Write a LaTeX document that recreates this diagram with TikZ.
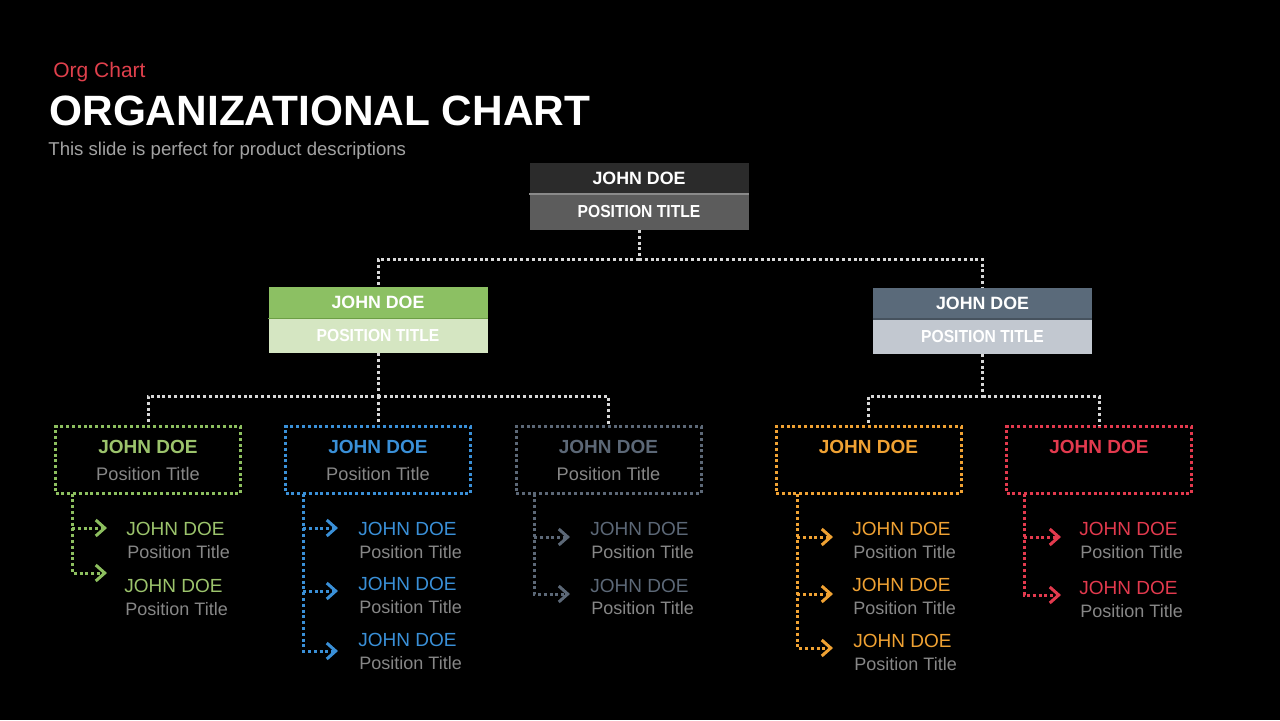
\documentclass[tikz,border=0pt]{standalone}
\usepackage{fontspec}
\setmainfont{Liberation Sans}
\newfontfamily\narrowfont[FakeStretch=0.9]{Liberation Sans}
\usetikzlibrary{arrows.meta}
\definecolor{cgreen}{HTML}{8DBF5F}
\definecolor{cgreentx}{HTML}{9CC46C}
\definecolor{cblue}{HTML}{3A90D8}
\definecolor{cgray}{HTML}{5C6877}
\definecolor{corange}{HTML}{F0A233}
\definecolor{cred}{HTML}{E33A4E}
\definecolor{ctitle}{HTML}{878787}
\definecolor{csub}{HTML}{A3A3A3}
\definecolor{corg}{HTML}{E0404C}
\definecolor{conn}{HTML}{D8D8D8}
\definecolor{topdark}{HTML}{2B2B2B}
\definecolor{topmid}{HTML}{5C5C5C}
\definecolor{topsep}{HTML}{8A8A8A}
\definecolor{lgdark}{HTML}{8CC063}
\definecolor{lglight}{HTML}{D5E6C2}
\definecolor{lgsep}{HTML}{6C9E45}
\definecolor{rsdark}{HTML}{5A6A7A}
\definecolor{rslight}{HTML}{C2C8D0}
\definecolor{rssep}{HTML}{46525E}
\begin{document}
\begin{tikzpicture}[x=0.5pt,y=-0.5pt,
  hdrname/.style={fill=#1, text=white, inner sep=0pt, minimum width=109.5pt, minimum height=15.5pt, font=\fontsize{8.9}{10}\selectfont\bfseries},
  hdrtitle/.style={fill=#1, text=white, inner sep=0pt, minimum width=109.5pt, minimum height=17.5pt, font=\narrowfont\fontsize{8.7}{10}\selectfont\bfseries},
  sepline/.style={draw=#1, line width=0.8pt},
  dots/.style={line width=1.5pt, dash pattern=on 1.5pt off 1.4pt},
  mainconn/.style={draw=conn, dots},
  cbox/.style={draw=#1, dots, minimum width=92.5pt, minimum height=33.5pt, inner sep=0pt},
  bname/.style={text=#1, inner sep=0pt, font=\fontsize{9.5}{11}\selectfont\bfseries},
  btitle/.style={text=ctitle, inner sep=0pt, font=\fontsize{9.1}{11}\selectfont},
  subarrow/.style={draw=#1, dots, -{Straight Barb[length=4.5pt,width=8pt,line width=1.5pt]}},
  sname/.style={text=#1, anchor=west, inner sep=0pt, font=\fontsize{9.5}{11}\selectfont},
  stitle/.style={text=ctitle, anchor=west, inner sep=0pt, font=\fontsize{9.0}{11}\selectfont}]
\useasboundingbox[fill=black] (0,0) rectangle (1280,720);

% heading
\node[anchor=west, inner sep=0pt, text=corg, font=\fontsize{10.5}{12}\selectfont] (org) at (53,72) {Org Chart};
\node[anchor=west, inner sep=0pt, text=white, font=\fontsize{21.2}{24}\selectfont\bfseries] (title) at (49,111) {ORGANIZATIONAL CHART};
\node[anchor=west, inner sep=0pt, text=csub, font=\fontsize{9.3}{11}\selectfont] (subtitle) at (48,151) {This slide is perfect for product descriptions};

% top box
\node[hdrname=topdark] (topn) at (639,178) {JOHN DOE};
\node[hdrtitle=topmid, minimum height=18pt] (topt) at (639,211.5) {POSITION TITLE};
\draw[sepline=topsep] (topn.south west) -- (topn.south east);

% left middle box
\node[hdrname=lgdark] (lmn) at (378,302.5) {JOHN DOE};
\node[hdrtitle=lglight] (lmt) at (378,335.5) {POSITION TITLE};
\draw[sepline=lgsep] (lmn.south west) -- (lmn.south east);

% right middle box
\node[hdrname=rsdark] (rmn) at (982.5,303) {JOHN DOE};
\node[hdrtitle=rslight] (rmt) at (982.5,336) {POSITION TITLE};
\draw[sepline=rssep] (rmn.south west) -- (rmn.south east);

% bottom boxes
\node[cbox=cgreen] (gbox) at (148,460) {};
\node[cbox=cblue] (bbox) at (378,460) {};
\node[cbox=cgray] (ybox) at (608.5,460) {};
\node[cbox=corange] (obox) at (868.5,460) {};
\node[cbox=cred] (rbox) at (1099,460) {};

\node[bname=cgreentx] (gboxn) at (148,447) {JOHN DOE};
\node[btitle] (gboxt) at (148,474) {Position Title};
\node[bname=cblue] (bboxn) at (378,447) {JOHN DOE};
\node[btitle] (bboxt) at (378,474) {Position Title};
\node[bname=cgray] (yboxn) at (608.5,447) {JOHN DOE};
\node[btitle] (yboxt) at (608.5,474) {Position Title};
\node[bname=corange] (oboxn) at (868.5,447) {JOHN DOE};
\node[bname=cred] (rboxn) at (1099,447) {JOHN DOE};

% main connectors
\coordinate (bar1) at (639,259);
\coordinate (bar2) at (378,396);
\coordinate (bar3) at (982.5,396);
\draw[mainconn] (topt.south) -- (bar1) -| (lmn.north);
\draw[mainconn] (bar1) -| (rmn.north);
\draw[mainconn] (lmt.south) -- (bar2) -| (gbox.north);
\draw[mainconn] (bar2) -| (ybox.north);
\draw[mainconn] (bar2) -- (bbox.north);
\draw[mainconn] (rmt.south) -- (bar3) -| (obox.north);
\draw[mainconn] (bar3) -| (rbox.north);

% green subs
\coordinate (g0) at (72,493.5);
\coordinate (ga1) at (107,528);
\coordinate (ga2) at (107,573);
\draw[subarrow=cgreen] (g0) |- (ga2);
\draw[subarrow=cgreen] (g0 |- ga1) -- (ga1);
\node[sname=cgreentx] (gs1n) at (126,529) {JOHN DOE};
\node[stitle] (gs1t) at (127,552) {Position Title};
\node[sname=cgreentx] (gs2n) at (124,586) {JOHN DOE};
\node[stitle] (gs2t) at (125,609) {Position Title};

% blue subs
\coordinate (b0) at (303,493.5);
\coordinate (ba1) at (338,528);
\coordinate (ba2) at (338,591);
\coordinate (ba3) at (338,651);
\draw[subarrow=cblue] (b0) |- (ba3);
\draw[subarrow=cblue] (b0 |- ba1) -- (ba1);
\draw[subarrow=cblue] (b0 |- ba2) -- (ba2);
\node[sname=cblue] (bs1n) at (358,529) {JOHN DOE};
\node[stitle] (bs1t) at (359,552) {Position Title};
\node[sname=cblue] (bs2n) at (358,584) {JOHN DOE};
\node[stitle] (bs2t) at (359,607) {Position Title};
\node[sname=cblue] (bs3n) at (358,640) {JOHN DOE};
\node[stitle] (bs3t) at (359,663) {Position Title};

% gray subs
\coordinate (y0) at (534,493.5);
\coordinate (ya1) at (570,537);
\coordinate (ya2) at (570,594);
\draw[subarrow=cgray] (y0) |- (ya2);
\draw[subarrow=cgray] (y0 |- ya1) -- (ya1);
\node[sname=cgray] (ys1n) at (590,529) {JOHN DOE};
\node[stitle] (ys1t) at (591,552) {Position Title};
\node[sname=cgray] (ys2n) at (590,586) {JOHN DOE};
\node[stitle] (ys2t) at (591,608) {Position Title};

% orange subs
\coordinate (o0) at (797,493.5);
\coordinate (oa1) at (833,537);
\coordinate (oa2) at (833,594);
\coordinate (oa3) at (833,648);
\draw[subarrow=corange] (o0) |- (oa3);
\draw[subarrow=corange] (o0 |- oa1) -- (oa1);
\draw[subarrow=corange] (o0 |- oa2) -- (oa2);
\node[sname=corange] (os1n) at (852,529) {JOHN DOE};
\node[stitle] (os1t) at (853,552) {Position Title};
\node[sname=corange] (os2n) at (852,585) {JOHN DOE};
\node[stitle] (os2t) at (853,608) {Position Title};
\node[sname=corange] (os3n) at (853,641) {JOHN DOE};
\node[stitle] (os3t) at (854,664) {Position Title};

% red subs
\coordinate (r0) at (1024,493.5);
\coordinate (ra1) at (1061,537);
\coordinate (ra2) at (1061,595);
\draw[subarrow=cred] (r0) |- (ra2);
\draw[subarrow=cred] (r0 |- ra1) -- (ra1);
\node[sname=cred] (rs1n) at (1079,529) {JOHN DOE};
\node[stitle] (rs1t) at (1080,552) {Position Title};
\node[sname=cred] (rs2n) at (1079,588) {JOHN DOE};
\node[stitle] (rs2t) at (1080,611) {Position Title};
\end{tikzpicture}
\end{document}
